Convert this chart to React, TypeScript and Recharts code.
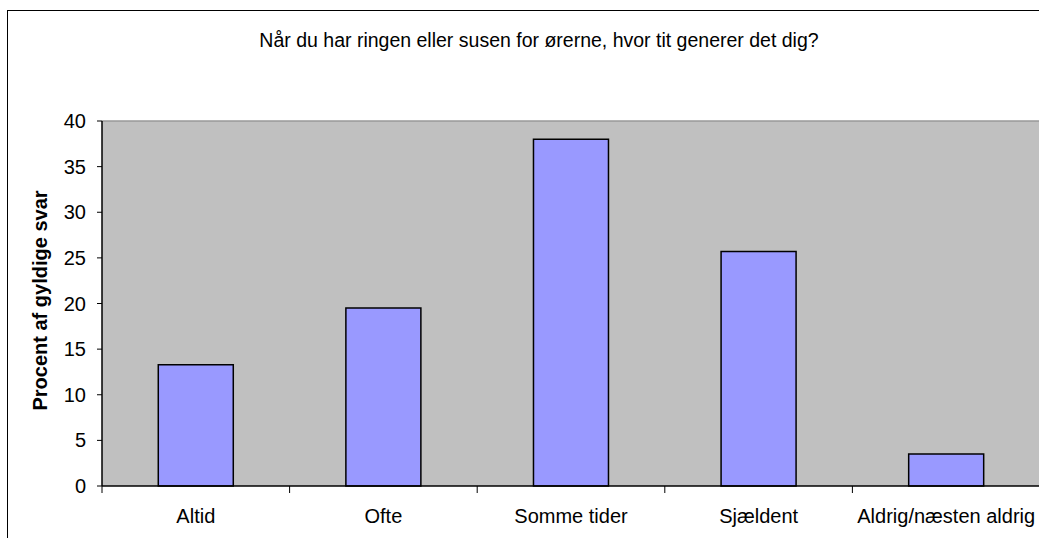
import React from 'react';
import { BarChart, Bar, XAxis, YAxis, CartesianGrid, ReferenceLine, Label } from 'recharts';

// Survey answers (percent of valid responses)
const categories = ['Altid', 'Ofte', 'Somme tider', 'Sjældent', 'Aldrig/næsten aldrig'];
const percentValues = [13.3, 19.5, 38.0, 25.7, 3.5];
const yTicks = [0, 5, 10, 15, 20, 25, 30, 35, 40];

const title = 'Når du har ringen eller susen for ørerne, hvor tit generer det dig?';
const yLabel = 'Procent af gyldige svar';

const FONT = '"Liberation Sans", Arial, sans-serif';

const data = categories.map((name, i) => ({ name, value: percentValues[i] }));

// rotated axis title, kept in the svg
const YTitle = (props: any) => {
  const { viewBox } = props;
  const cy = viewBox.y + viewBox.height / 2 - 3;
  const x = 47;
  return (
    <text
      x={x}
      y={cy}
      transform={`rotate(-90, ${x}, ${cy})`}
      textAnchor="middle"
      fontFamily={FONT}
      fontSize={20}
      fontWeight="bold"
      fill="#000"
    >
      {yLabel}
    </text>
  );
};

// category label plus the tick mark on the category boundary (excel style)
const CategoryTick = (props: any) => {
  const { x, y, payload, width, visibleTicksCount, index } = props;
  const band = Number(width) / (visibleTicksCount || categories.length);
  const axisY = y - 23;
  const left = x - band / 2;
  return (
    <g>
      {Number.isFinite(left) && (
        <line x1={left} x2={left} y1={axisY} y2={axisY + 7} stroke="#000" strokeWidth={1} />
      )}
      {Number.isFinite(left) && index === visibleTicksCount - 1 && (
        <line x1={left + band} x2={left + band} y1={axisY} y2={axisY + 7} stroke="#000" />
      )}
      <text
        x={x}
        y={y}
        dy="0.71em"
        textAnchor="middle"
        fill="#000"
        fontSize={20}
        fontFamily={FONT}
      >
        {payload.value}
      </text>
    </g>
  );
};

export default function App() {
  return (
    <div
      style={{
        position: 'absolute',
        left: 0,
        top: 0,
        width: 1039,
        height: 538,
        overflow: 'hidden',
        background: '#fff',
        fontFamily: FONT,
      }}
    >
      {/* outer chart frame, runs off the right/bottom edge */}
      <div
        style={{
          position: 'absolute',
          left: 7,
          top: 10,
          width: 1100,
          height: 600,
          border: '1px solid #000',
        }}
      />
      <div
        style={{
          position: 'absolute',
          left: 0,
          top: 29,
          width: 1078,
          textAlign: 'center',
          fontSize: 19.5,
          color: '#000',
          whiteSpace: 'nowrap',
        }}
      >
        {title}
      </div>
      <div style={{ position: 'absolute', left: 0, top: 0 }}>
        <BarChart
          width={1040}
          height={538}
          data={data}
          margin={{ top: 121, right: 0, left: 0, bottom: 0 }}
          barCategoryGap="30%"
        >
          <CartesianGrid fill="#C0C0C0" horizontal={false} vertical={false} />
          <XAxis
            dataKey="name"
            interval={0}
            height={52}
            tickLine={false}
            tickSize={6}
            tickMargin={17}
            axisLine={{ stroke: '#000', strokeWidth: 1.5 }}
            tick={<CategoryTick />}
          />
          <YAxis
            width={102}
            domain={[0, 40]}
            ticks={yTicks}
            interval={0}
            tickSize={5}
            tickMargin={11}
            axisLine={{ stroke: '#000', strokeWidth: 1.5 }}
            tickLine={{ stroke: '#000' }}
            tick={{ fill: '#000', fontSize: 20, fontFamily: FONT }}
          >
            <Label content={<YTitle />} />
          </YAxis>
          <ReferenceLine y={40} stroke="#999" strokeWidth={1.5} />
          <Bar
            dataKey="value"
            fill="#9999FF"
            stroke="#000"
            strokeWidth={1.5}
            isAnimationActive={false}
          />
        </BarChart>
      </div>
    </div>
  );
}
